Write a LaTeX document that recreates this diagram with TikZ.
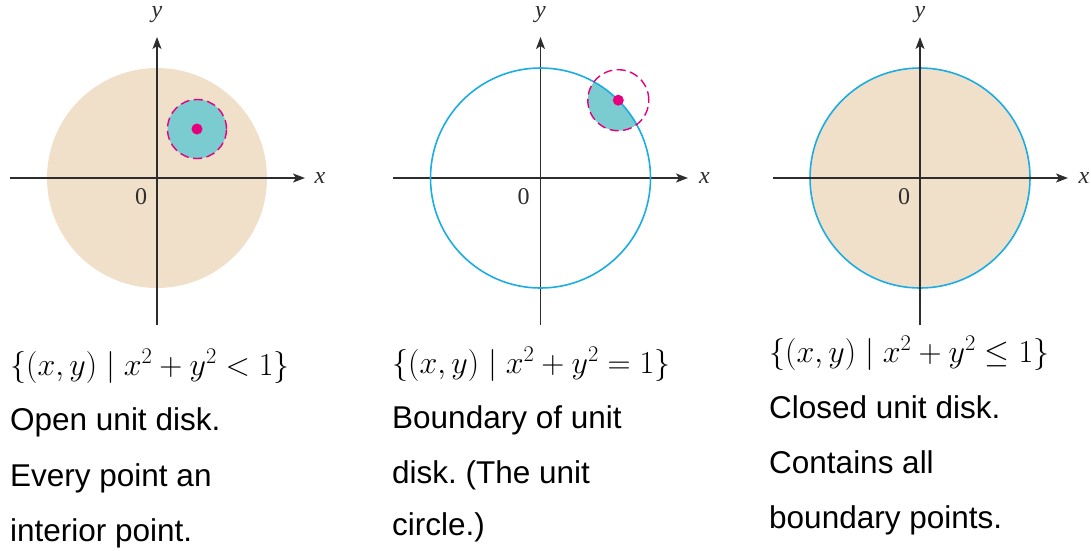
\documentclass[tikz,border=0pt]{standalone}
\usepackage{fix-cm}
\usepackage{fontspec}
\setsansfont{Liberation Sans}
\newfontfamily\labserif{Liberation Serif}
\usetikzlibrary{arrows.meta}
\definecolor{disktan}{RGB}{241,224,201}
\definecolor{diskteal}{RGB}{122,204,208}
\definecolor{ptmag}{RGB}{230,0,126}
\definecolor{circblue}{RGB}{28,172,228}
\definecolor{axisgray}{RGB}{45,45,45}
\frenchspacing
\begin{document}
\begin{tikzpicture}[x=1pt,y=-1pt,
  axisline/.style={line width=1.5pt, draw=axisgray, -{Stealth[length=12pt,width=9pt,inset=3pt]}},
  axlabel/.style={inner sep=0pt, font=\labserif\fontsize{24}{28}\selectfont, text=axisgray},
  formula/.style={inner sep=0pt, anchor=base west, font=\fontsize{32}{38}\selectfont},
  caption/.style={inner sep=0pt, anchor=base west, font=\sffamily\fontsize{31.5}{36}\selectfont},
  dashcirc/.style={draw=ptmag, line width=1.4pt, dash pattern=on 9pt off 4.5pt},
  unitcirc/.style={draw=circblue, line width=1.6pt}]
\useasboundingbox (0,0) rectangle (1091,550);

% ---------- Panel 1: open unit disk ----------
\begin{scope}[shift={(157,178)}]
  \fill[disktan] (0,0) circle[radius=110pt];
  \coordinate (a1l) at (-147,0); \coordinate (a1r) at (148,0);
  \coordinate (a1b) at (0,147);  \coordinate (a1t) at (0,-141);
  \draw[axisline] (a1l) -- (a1r);
  \draw[axisline] (a1b) -- (a1t);
  \node[axlabel] (x1) at (163,0) {\itshape x};
  \node[axlabel] (y1) at (0,-163) {\itshape y};
  \node[axlabel] (o1) at (-16,19) {0};
  \filldraw[fill=diskteal, dashcirc] (40,-49) circle[radius=29.5pt];
  \node[circle, fill=ptmag, inner sep=0pt, minimum size=11pt] (p1) at (40,-49) {};
\end{scope}

% ---------- Panel 2: unit circle ----------
\begin{scope}[shift={(540.5,178)}]
  \coordinate (c2) at (0,0);
  \coordinate (q2) at (77.8,-77.8);
  \begin{scope}
    \clip (c2) circle[radius=110pt];
    \fill[diskteal] (q2) circle[radius=30.5pt];
  \end{scope}
  \coordinate (a2l) at (-147.5,0); \coordinate (a2r) at (147.5,0);
  \coordinate (a2b) at (0,147);  \coordinate (a2t) at (0,-141);
  \draw[axisline] (a2l) -- (a2r);
  \draw[axisline] (a2b) -- (a2t);
  \draw[unitcirc] (c2) circle[radius=110pt];
  \draw[dashcirc] (q2) circle[radius=30.5pt];
  \node[circle, fill=ptmag, inner sep=0pt, minimum size=11pt] (p2) at (q2) {};
  \node[axlabel] (x2) at (164,0) {\itshape x};
  \node[axlabel] (y2) at (0,-163) {\itshape y};
  \node[axlabel] (o2) at (-17,19) {0};
\end{scope}

% ---------- Panel 3: closed unit disk ----------
\begin{scope}[shift={(920,178)}]
  \filldraw[fill=disktan, unitcirc] (0,0) circle[radius=110pt];
  \coordinate (a3l) at (-147,0); \coordinate (a3r) at (148,0);
  \coordinate (a3b) at (0,147);  \coordinate (a3t) at (0,-141);
  \draw[axisline] (a3l) -- (a3r);
  \draw[axisline] (a3b) -- (a3t);
  \node[axlabel] (x3) at (164,0) {\itshape x};
  \node[axlabel] (y3) at (0,-163) {\itshape y};
  \node[axlabel] (o3) at (-16,19) {0};
\end{scope}

% ---------- Captions ----------
\node[formula] (f1) at (10,375) {$\{(x,y)\mid x^2+y^2<1\}$};
\node[caption] (t1a) at (10,430) {Open unit disk.};
\node[caption] (t1b) at (10,486) {Every point an};
\node[caption] (t1c) at (10,541) {interior point.};

\node[formula] (f2) at (392,373) {$\{(x,y)\mid x^2+y^2=1\}$};
\node[caption] (t2a) at (392,428) {Boundary of unit};
\node[caption] (t2b) at (392,483) {disk. (The unit};
\node[caption] (t2c) at (392,535) {circle.)};

\node[formula] (f3) at (769,362) {$\{(x,y)\mid x^2+y^2\le 1\}$};
\node[caption] (t3a) at (769,418) {Closed unit disk.};
\node[caption] (t3b) at (769,473) {Contains all};
\node[caption] (t3c) at (769,528) {boundary points.};
\end{tikzpicture}
\end{document}
